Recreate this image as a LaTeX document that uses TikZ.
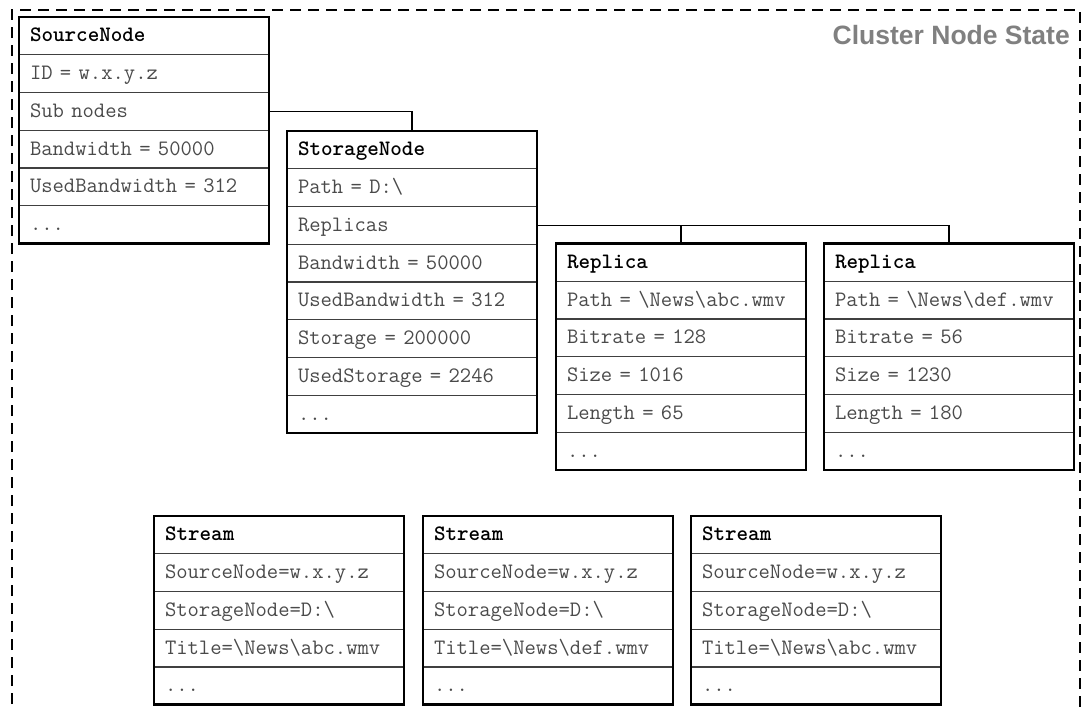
\documentclass[tikz,border=0pt]{standalone}
\usepackage{fontspec}
\setmainfont{Liberation Serif}
\setsansfont{Liberation Sans}
\usetikzlibrary{calc}
\definecolor{fieldgray}{HTML}{4A4A4A}
\definecolor{titlegray}{HTML}{808080}
\definecolor{sepgray}{HTML}{404040}
\newcommand\tridots{...}
\newcommand\monospacing{\spaceskip=\fontcharwd\font`\x plus 0pt minus 0pt\relax\xspaceskip=\spaceskip}
\tikzset{
 rowbox/.style={draw=sepgray, line width=1.1pt, minimum height=37.75pt, text width=228pt,
   inner xsep=11pt, inner ysep=0pt, outer sep=0pt, align=left, text height=15pt, text depth=3pt,
   anchor=north west},
 hdrbox/.style={rowbox, font=\fontsize{22}{24}\selectfont\ttfamily\bfseries\monospacing, text=black},
 fldbox/.style={rowbox, font=\fontsize{22}{24}\selectfont\ttfamily\monospacing, text=fieldgray},
 boxframe/.style={line width=2.8pt, line join=miter},
 conn/.style={line width=1.6pt, draw=black},
 cluster/.style={line width=1.6pt, dash pattern=on 11pt off 7pt},
 titlestyle/.style={font=\fontsize{26.5}{28}\selectfont\sffamily\bfseries, text=titlegray, inner sep=0pt, anchor=base east},
}
% name, x, y, title, number of fields, fields
\newcommand\classbox[6]{%
 \node[hdrbox] (#1) at (#2,#3) {#4};
 \foreach \f [count=\i] in {#6} {\node[fldbox] (#1-\i) at (#2,{#3+\i*37.75}) {\f};}
 \draw[boxframe] (#2,#3) rectangle ++(250,{(#5+1)*37.75});
}
\begin{document}
\begin{tikzpicture}[x=1pt,y=-1pt]
\useasboundingbox (0,0) rectangle (1084,709);
% cluster frame (open at the bottom edge of the picture)
\draw[cluster] (12,740) -- (12,10) -- (1080,10) -- (1080,740);
\node[titlestyle] (title) at (1070,45) {Cluster Node State};

\classbox{src}{19}{17}{SourceNode}{5}{ID = w.x.y.z, Sub nodes, Bandwidth = 50000, UsedBandwidth = 312, \tridots}
\classbox{stor}{287}{131}{StorageNode}{7}{Path = D:\textbackslash, Replicas, Bandwidth = 50000, UsedBandwidth = 312, Storage = 200000, UsedStorage = 2246, \tridots}
\classbox{repa}{556}{243.5}{Replica}{5}{Path = \textbackslash News\textbackslash abc.wmv, Bitrate = 128, Size = 1016, Length = 65, \tridots}
\classbox{repb}{824}{243.5}{Replica}{5}{Path = \textbackslash News\textbackslash def.wmv, Bitrate = 56, Size = 1230, Length = 180, \tridots}

\classbox{sta}{154}{516}{Stream}{4}{SourceNode=w.x.y.z, StorageNode=D:\textbackslash, Title=\textbackslash News\textbackslash abc.wmv, \tridots}
\classbox{stb}{423}{516}{Stream}{4}{SourceNode=w.x.y.z, StorageNode=D:\textbackslash, Title=\textbackslash News\textbackslash def.wmv, \tridots}
\classbox{stc}{691}{516}{Stream}{4}{SourceNode=w.x.y.z, StorageNode=D:\textbackslash, Title=\textbackslash News\textbackslash abc.wmv, \tridots}

% connectors
\draw[conn] (src-2.east) -| (stor.north);
\draw[conn] (stor-2.east) -| (repa.north);
\draw[conn] (stor-2.east) -| (repb.north);
\end{tikzpicture}
\end{document}
